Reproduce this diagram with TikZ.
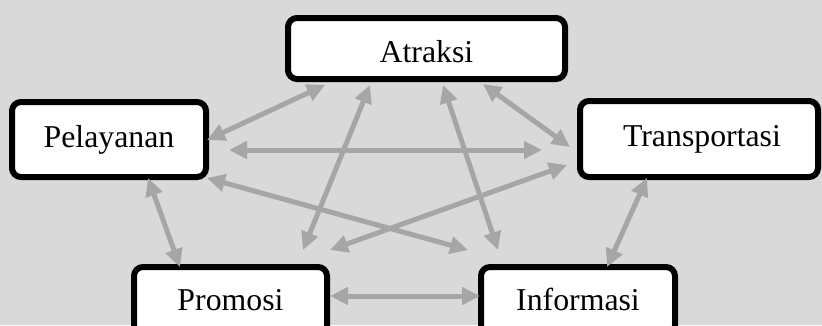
\documentclass[tikz,border=0pt]{standalone}
\usepackage{fontspec}
\setmainfont{Liberation Serif}
\usetikzlibrary{arrows.meta}
\definecolor{bgc}{RGB}{217,217,217}
\definecolor{arrc}{RGB}{166,166,166}
\begin{document}
\begin{tikzpicture}[x=1pt,y=-1pt,
  box/.style={draw=black, line width=6pt, fill=white, rounded corners=9pt,
    inner sep=0pt, outer sep=0pt, font=\fontsize{31.8}{32}\selectfont},
  link/.style={draw=arrc, line width=5pt,
    {Triangle[length=18pt,width=17pt]}-{Triangle[length=18pt,width=17pt]}}]
\fill[bgc] (0,0) rectangle (822,325);
\useasboundingbox (0,0) rectangle (822,325);
\begin{scope}
\clip (0,0) rectangle (822,325);
\node[box, minimum width=277pt, text height=44pt, text depth=17pt] (atr) at (426.5,48.5) {Atraksi};
\node[box, minimum width=194pt, text height=45pt, text depth=30pt] (pel) at (109,139.5) {Pelayanan};
\node[box, minimum width=238pt, text height=45pt, text depth=31pt] (tra) at (699,139) {\hspace{6pt}Transportasi};
\node[box, minimum width=193pt, text height=43pt, text depth=25pt] (pro) at (230.5,301) {Promosi};
\node[box, minimum width=194pt, text height=43pt, text depth=25pt] (inf) at (578,301) {Informasi};

\draw[link] ([shift={(37,6)}]atr.south west) -- ([shift={(1,0.5)}]pel.east);
\draw[link] ([shift={(82,6)}]atr.south west) -- ([shift={(-24,-17)}]pro.north east);
\draw[link] ([shift={(155,6)}]atr.south west) -- ([shift={(17,-17)}]inf.north west);
\draw[link] ([shift={(195,5)}]atr.south west) -- ([shift={(-10,8)}]tra.west);
\draw[link] ([shift={(23,10.5)}]pel.east) -- ([shift={(-38,11)}]tra.west);
\draw[link] ([shift={(1,1)}]pel.south east) -- ([shift={(-13,-17)}]inf.north west);
\draw[link] ([shift={(136,1)}]pel.south west) -- ([shift={(46,0)}]pro.north west);
\draw[link] ([shift={(-13,26)}]tra.west) -- ([shift={(3,-17)}]pro.north east);
\draw[link] ([shift={(67,1)}]tra.south west) -- ([shift={(126,0)}]inf.north west);
\draw[link] ([shift={(3,-5)}]pro.east) -- ([shift={(-1,-5)}]inf.west);
\end{scope}
\end{tikzpicture}
\end{document}
